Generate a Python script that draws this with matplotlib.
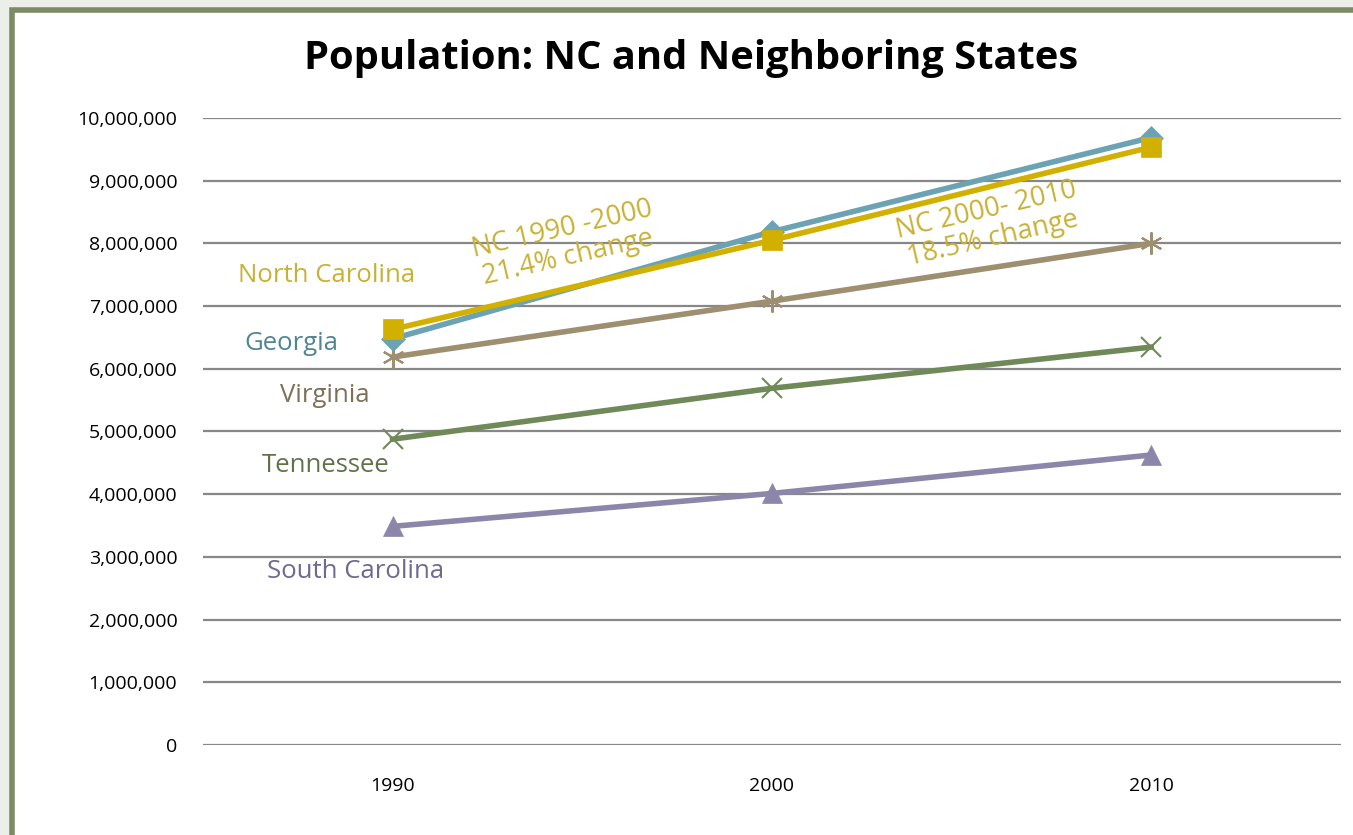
import matplotlib.pyplot as plt
from matplotlib.patches import Rectangle
from matplotlib.ticker import FuncFormatter, MultipleLocator

plt.rcParams['font.family'] = ['Open Sans', 'DejaVu Sans']

years = ['1990', '2000', '2010']
states = ['Georgia', 'North Carolina', 'Virginia', 'Tennessee', 'South Carolina']
georgia = [6478216, 8186453, 9687653]
north_carolina = [6628637, 8049313, 9535483]
virginia = [6187358, 7078515, 8001024]
tennessee = [4877185, 5689283, 6346105]
south_carolina = [3486703, 4012012, 4625364]
notes = ['NC 1990 -2000\n21.4% change', 'NC 2000- 2010\n18.5% change']

series = [georgia, north_carolina, virginia, tennessee, south_carolina]
line_col = ['#6ba3b4', '#d2b000', '#9d8f6f', '#6f8958', '#8c87aa']
text_col = ['#4f8595', '#c8b135', '#7d7158', '#5f7249', '#6f6991']
marks = ['D', 's', (6, 2, 0), 'x', '^']
msize = [12, 15, 16, 14, 14]
# label spots (x in category units, y in data units)
lab_pos = [(-0.267, 6.41e6), (-0.174, 7.48e6), (-0.179, 5.58e6), (-0.177, 4.45e6), (-0.098, 2.76e6)]

fig = plt.figure(figsize=(13.53, 8.35), dpi=100)
fig.patch.set_facecolor('#eceeea')
frame = Rectangle((0.0089, -0.05), 1.1, 1.0375, transform=fig.transFigure,
                  facecolor='white', edgecolor='#7b8b63', linewidth=4, zorder=-5)
fig.patches.append(frame)

ax = fig.add_axes([0.150, 0.1078, 0.841, 0.7509])
ax.set_facecolor('none')
ax.set_zorder(2)
x = list(range(len(years)))
order = [2, 3, 4, 0, 1]
for i in order:
    thin = marks[i] == 'x' or isinstance(marks[i], tuple)
    ax.plot(x, series[i], color=line_col[i], linewidth=4, marker=marks[i],
            markersize=msize[i], markeredgewidth=1.5 if thin else 0.5,
            markeredgecolor=line_col[i], clip_on=False, zorder=3 + order.index(i))
    ax.text(lab_pos[i][0], lab_pos[i][1], states[i], color=text_col[i], fontsize=18.5,
            ha='center', va='center')

ax.text(0.455, 8.0e6, notes[0], color='#c8b135', fontsize=19.5, ha='center', va='center',
        rotation=13, linespacing=1.05, zorder=10)
ax.text(1.575, 8.3e6, notes[1], color='#c8b135', fontsize=19.5, ha='center', va='center',
        rotation=13, linespacing=1.05, zorder=10)

ax.set_xlim(-0.5, 2.5)
ax.set_ylim(0, 10000000)
ax.set_xticks(x)
ax.set_xticklabels(years)
ax.yaxis.set_major_locator(MultipleLocator(1000000))
ax.yaxis.set_major_formatter(FuncFormatter(lambda v, p: f'{int(v):,}'))
ax.tick_params(axis='both', length=0, labelsize=14, colors='black')
ax.tick_params(axis='y', pad=18.5)
ax.tick_params(axis='x', pad=23)
ax.grid(axis='y', color='#878787', linewidth=1.6)
ax.set_axisbelow(True)
for s in ax.spines.values():
    s.set_visible(False)

fig.text(0.5107, 0.93, 'Population: NC and Neighboring States', fontsize=28.7, fontweight='bold',
         ha='center', va='center')

fig.savefig('out.png', dpi=100, facecolor=fig.get_facecolor())
